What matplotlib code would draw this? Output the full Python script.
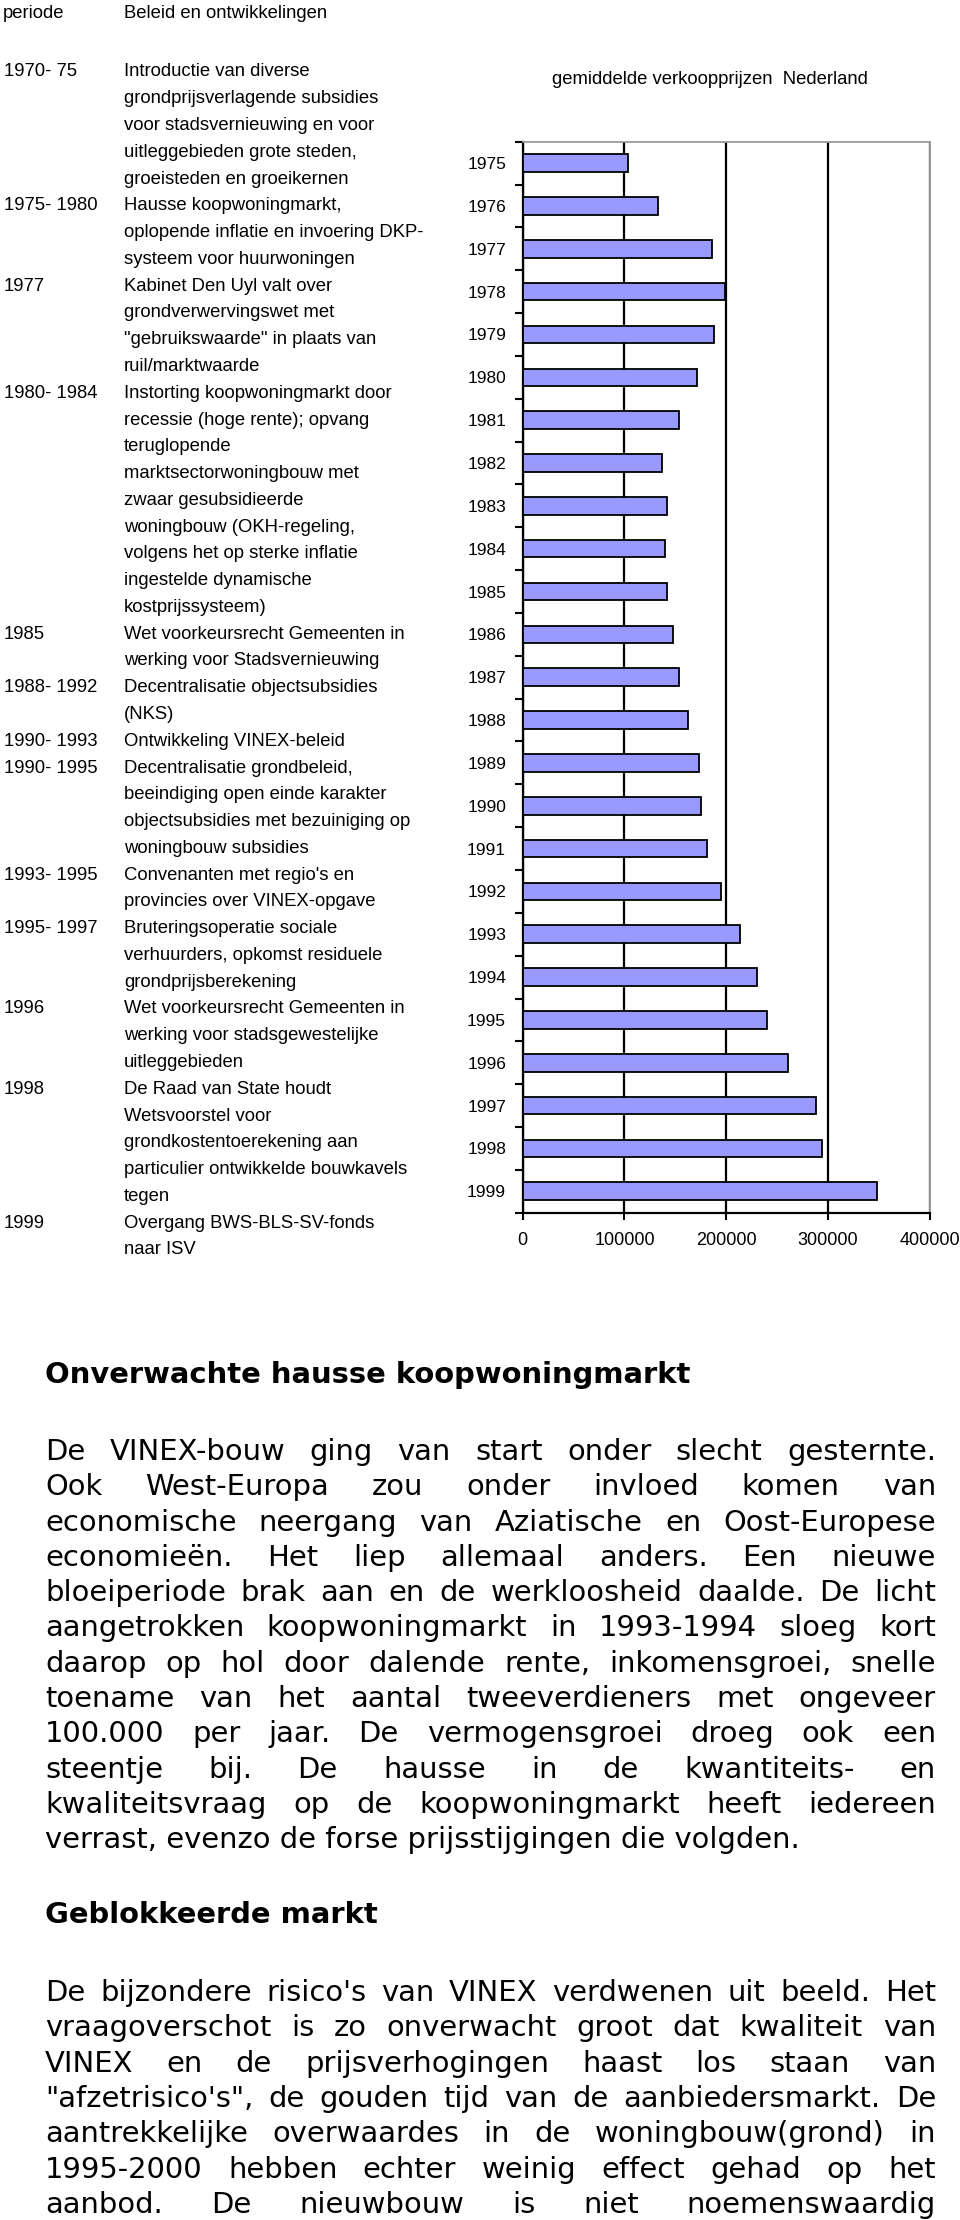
import numpy as np
import matplotlib.pyplot as plt

# gemiddelde verkoopprijzen Nederland (gulden)
years = [str(y) for y in range(1975, 2000)]
prices = [103000, 132500, 186500, 199000, 188500, 171500, 154000, 137000,
          141500, 139500, 141500, 147500, 154000, 162500, 173500, 175500,
          181500, 195000, 213500, 230000, 240500, 261000, 288500, 294500, 348500]
xticks = [0, 100000, 200000, 300000, 400000]

periods = ["1970- 75", "1975- 1980", "1977", "1980- 1984", "1985", "1988- 1992",
           "1990- 1993", "1990- 1995", "1993- 1995", "1995- 1997", "1996", "1998", "1999"]
policy = [
    ["Introductie van diverse", "grondprijsverlagende subsidies",
     "voor stadsvernieuwing en voor", "uitleggebieden grote steden,",
     "groeisteden en groeikernen"],
    ["Hausse koopwoningmarkt,", "oplopende inflatie en invoering DKP-",
     "systeem voor huurwoningen"],
    ["Kabinet Den Uyl valt over", "grondverwervingswet met",
     "\"gebruikswaarde\" in plaats van", "ruil/marktwaarde"],
    ["Instorting koopwoningmarkt door", "recessie (hoge rente); opvang",
     "teruglopende", "marktsectorwoningbouw met", "zwaar gesubsidieerde",
     "woningbouw (OKH-regeling,", "volgens het op sterke inflatie",
     "ingestelde dynamische", "kostprijssysteem)"],
    ["Wet voorkeursrecht Gemeenten in", "werking voor Stadsvernieuwing"],
    ["Decentralisatie objectsubsidies", "(NKS)"],
    ["Ontwikkeling VINEX-beleid"],
    ["Decentralisatie grondbeleid,", "beeindiging open einde karakter",
     "objectsubsidies met bezuiniging op", "woningbouw subsidies"],
    ["Convenanten met regio's en", "provincies over VINEX-opgave"],
    ["Bruteringsoperatie sociale", "verhuurders, opkomst residuele",
     "grondprijsberekening"],
    ["Wet voorkeursrecht Gemeenten in", "werking voor stadsgewestelijke",
     "uitleggebieden"],
    ["De Raad van State houdt", "Wetsvoorstel voor",
     "grondkostentoerekening aan", "particulier ontwikkelde bouwkavels", "tegen"],
    ["Overgang BWS-BLS-SV-fonds", "naar ISV"],
]

head1 = "Onverwachte hausse koopwoningmarkt"
para1 = [
    "De VINEX-bouw ging van start onder slecht gesternte.",
    "Ook West-Europa zou onder invloed komen van",
    "economische neergang van Aziatische en Oost-Europese",
    "economieën. Het liep allemaal anders. Een nieuwe",
    "bloeiperiode brak aan en de werkloosheid daalde. De licht",
    "aangetrokken koopwoningmarkt in 1993-1994 sloeg kort",
    "daarop op hol door dalende rente, inkomensgroei, snelle",
    "toename van het aantal tweeverdieners met ongeveer",
    "100.000 per jaar. De vermogensgroei droeg ook een",
    "steentje bij. De hausse in de kwantiteits- en",
    "kwaliteitsvraag op de koopwoningmarkt heeft iedereen",
    "verrast, evenzo de forse prijsstijgingen die volgden.",
]
head2 = "Geblokkeerde markt"
para2 = [
    "De bijzondere risico's van VINEX verdwenen uit beeld. Het",
    "vraagoverschot is zo onverwacht groot dat kwaliteit van",
    "VINEX en de prijsverhogingen haast los staan van",
    "\"afzetrisico's\", de gouden tijd van de aanbiedersmarkt. De",
    "aantrekkelijke overwaardes in de woningbouw(grond) in",
    "1995-2000 hebben echter weinig effect gehad op het",
    "aanbod. De nieuwbouw is niet noemenswaardig",
]

W, H = 960, 2220


def fx(px):
    return px / W


def fy(py):
    return 1 - py / H


fig = plt.figure(figsize=(9.6, 22.2), dpi=100)
fig.patch.set_facecolor('white')
small = dict(family='Liberation Sans', fontsize=13.3, color='black')

# left column: periode / beleid
fig.text(fx(3), fy(13), "periode", va='center', **small)
fig.text(fx(124), fy(13), "Beleid en ontwikkelingen", va='center', **small)
row = 0
for p, lines in zip(periods, policy):
    fig.text(fx(4), fy(72 + row * 26.77), p, va='center', **small)
    for line in lines:
        fig.text(fx(124), fy(72 + row * 26.77), line, va='center', **small)
        row += 1

# bar chart
fig.text(fx(710), fy(80), "gemiddelde verkoopprijzen  Nederland",
         ha='center', va='center', **small)
ax = fig.add_axes([fx(522.7), fy(1212.7), 407 / W, 1071 / H])
pos = np.arange(len(years))
ax.barh(pos, prices, height=0.41, color='#9999ff', edgecolor='black', linewidth=1.3, zorder=3)
ax.set_xlim(0, 400000)
ax.set_ylim(len(years) - 0.5, -0.5)
ax.set_axisbelow(True)
ax.xaxis.grid(True, color='black', linewidth=1.6)
ax.set_xticks(xticks)
ax.set_xticklabels([str(v) for v in xticks], family='Liberation Sans', fontsize=13)
ax.set_yticks(pos)
ax.set_yticklabels(years, family='Liberation Sans', fontsize=12.5)
ax.set_yticks(np.arange(-0.5, len(years), 1), minor=True)
ax.tick_params(axis='y', which='major', length=0, pad=12)
ax.tick_params(axis='y', which='minor', length=5.5, width=1.5, direction='out')
ax.tick_params(axis='x', length=5, width=1.5, direction='out', pad=9)
for s in ['left', 'bottom']:
    ax.spines[s].set_color('black')
    ax.spines[s].set_linewidth(1.6)
for s in ['top', 'right']:
    ax.spines[s].set_color('#999999')
    ax.spines[s].set_linewidth(1.3)

# tekst onder de grafiek
body = dict(family='DejaVu Sans', fontsize=20.9, color='black')
renderer = fig.canvas.get_renderer()
x0, x1 = 45, 936


def justify(line, y, last=False):
    if last:
        fig.text(fx(x0), fy(y), line, va='baseline', **body)
        return
    words = line.split(' ')
    texts = [fig.text(0, fy(y), w, va='baseline', **body) for w in words]
    widths = [t.get_window_extent(renderer).width for t in texts]
    gap = (x1 - x0 - sum(widths)) / (len(words) - 1)
    x = x0
    for t, w in zip(texts, widths):
        t.set_x(fx(x))
        x += w + gap


fig.text(fx(x0), fy(1383), head1, va='baseline', fontweight='bold', **body)
for i, line in enumerate(para1):
    justify(line, 1460 + i * 35.3, last=(i == len(para1) - 1))
fig.text(fx(x0), fy(1923), head2, va='baseline', fontweight='bold', **body)
for i, line in enumerate(para2):
    justify(line, 2001 + i * 35.3)

fig.savefig('out.png', dpi=100, facecolor='white')
